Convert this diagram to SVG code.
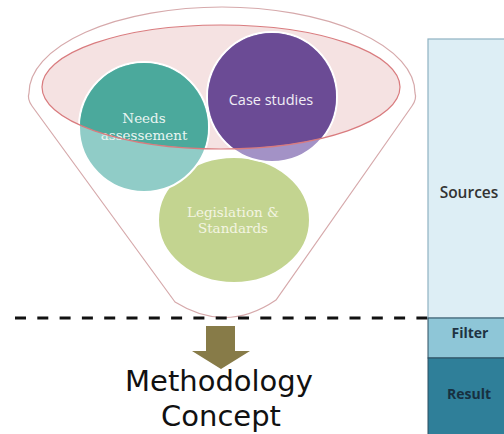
<svg xmlns="http://www.w3.org/2000/svg" width="504" height="434" viewBox="0 0 504 434">
<style>
.lbl{font-family:"DejaVu Serif","Liberation Serif",serif;font-size:13.5px;text-anchor:middle}
.sans{font-family:"Open Sans","Liberation Sans",sans-serif;text-anchor:middle}
.big{font-family:"DejaVu Sans","Open Sans",sans-serif;font-size:29px;text-anchor:middle;fill:#111111}
.circ{stroke:#ffffff;stroke-width:2}
</style>
<defs>
<clipPath id="inner"><ellipse cx="221" cy="87" rx="179" ry="62"/></clipPath>
</defs>
<rect width="504" height="434" fill="#ffffff"/>
<g id="funnel">
<path d="M175,302 L32,106 Q27,99 29,93 A193,86 0 0 1 415,93 Q417,99 412,106 L276,300 Q226,334 175,302 Z" fill="#ffffff" stroke="#d6a9ab" stroke-width="1.2"/>
<ellipse cx="221" cy="87" rx="179" ry="62" fill="#f5e2e2"/>
</g>
<g id="legislation">
<ellipse class="circ" cx="234" cy="220" rx="76" ry="63" fill="#c3d490"/>
<text class="lbl" x="233" y="217" fill="#f3f4e2">Legislation &amp;</text>
<text class="lbl" x="233" y="233" fill="#f3f4e2">Standards</text>
</g>
<g id="needs">
<circle class="circ" cx="144" cy="127" r="65" fill="#90ccc7"/>
<circle cx="144" cy="127" r="64" fill="#4ba99c" clip-path="url(#inner)"/>
<text class="lbl" x="144" y="123" fill="#e9f5f2">Needs</text>
<text class="lbl" x="144" y="140" fill="#e9f5f2">assessement</text>
</g>
<g id="case">
<circle class="circ" cx="272" cy="97" r="65" fill="#a392c6"/>
<circle cx="272" cy="97" r="64" fill="#6b4b95" clip-path="url(#inner)"/>
<text class="sans" x="271" y="105" font-size="14.5" fill="#f1eef6">Case studies</text>
</g>
<g id="rim">
<ellipse cx="221" cy="87" rx="179" ry="62" fill="none" stroke="#d97b7e" stroke-width="1.2"/>
</g>
<g id="connectors">
<line x1="15" y1="318" x2="428" y2="318" stroke="#111111" stroke-width="3" stroke-dasharray="11,11.3"/>
<path d="M206,326 L235,326 L235,351 L250,351 L221,369 L192,351 L206,351 Z" fill="#877b48"/>
</g>
<g id="concept">
<text class="big" x="219" y="391">Methodology</text>
<text class="big" x="221" y="426">Concept</text>
</g>
<g id="sources">
<rect x="428" y="39" width="80" height="279" fill="#ddeef5" stroke="#8fb2c2" stroke-width="1.2"/>
<text class="sans" x="469" y="198" font-size="15.5" font-weight="600" fill="#333333">Sources</text>
</g>
<g id="filter">
<rect x="428" y="318" width="80" height="40" fill="#8ec6d7" stroke="#2c4f60" stroke-width="1"/>
<text class="sans" x="470" y="338" font-size="14" font-weight="bold" fill="#1e3342">Filter</text>
</g>
<g id="result">
<rect x="428" y="358" width="80" height="80" fill="#2f7f99" stroke="#2c4f60" stroke-width="1"/>
<text class="sans" x="469" y="399" font-size="14" font-weight="bold" fill="#173040">Result</text>
</g>
</svg>
